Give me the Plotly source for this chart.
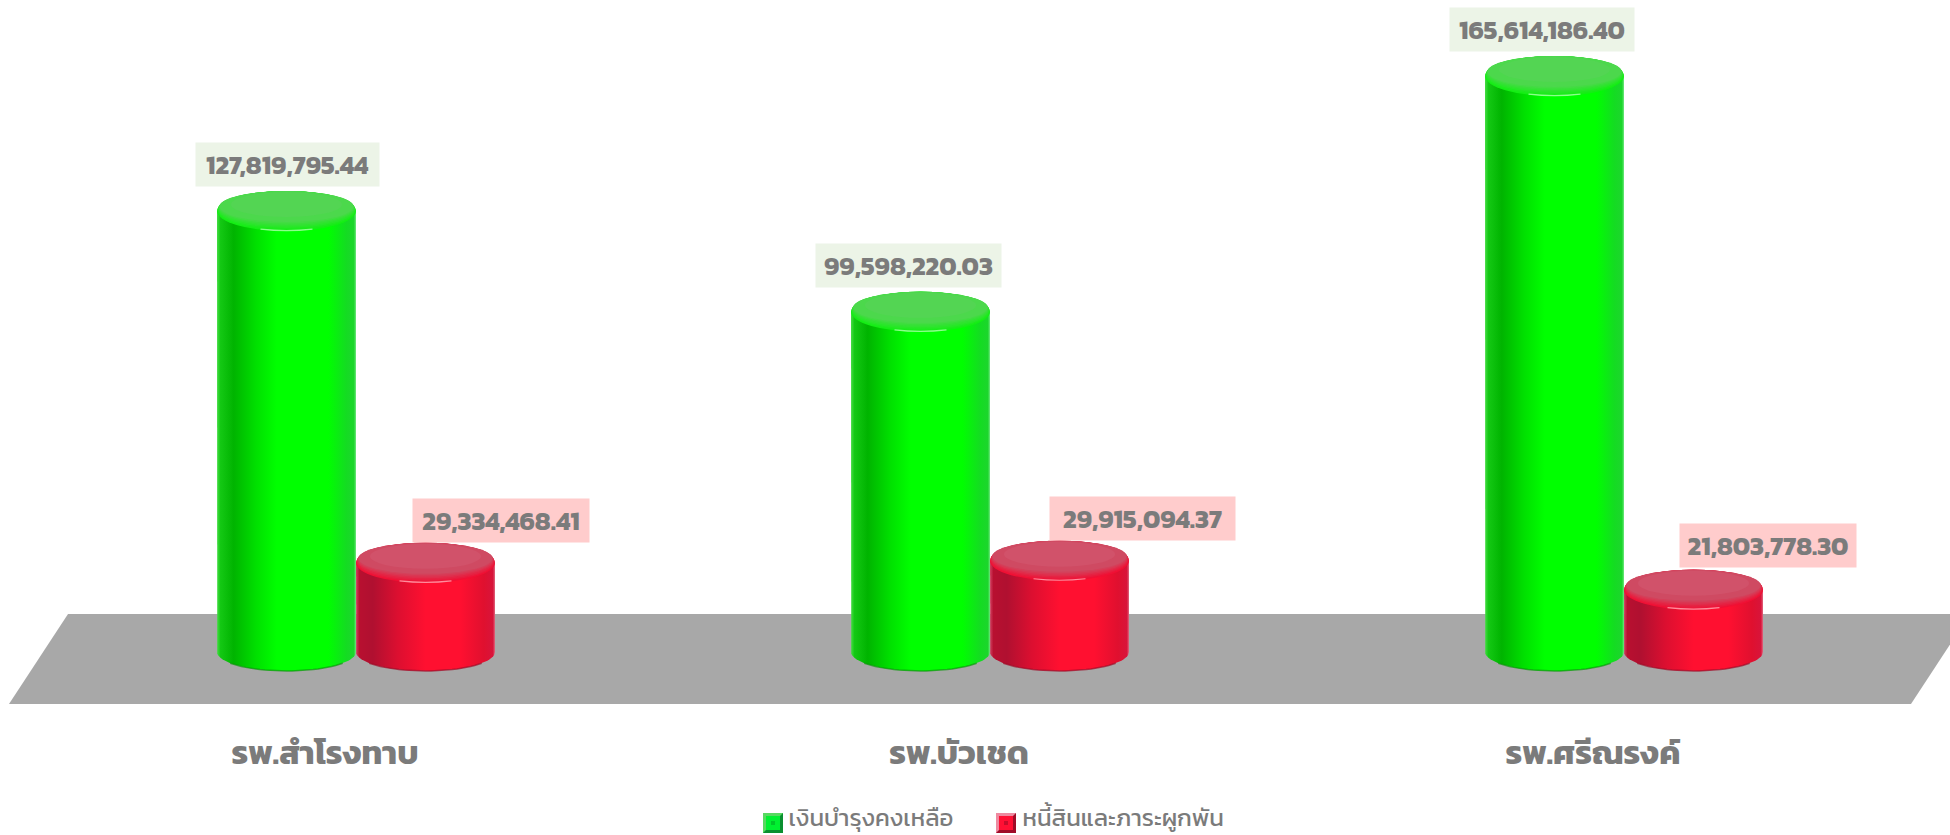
import numpy as np
import plotly.graph_objects as go

categories = ["รพ.สำโรงทาบ", "รพ.บัวเชด", "รพ.ศรีณรงค์"]
series_names = ["เงินบำรุงคงเหลือ", "หนี้สินและภาระผูกพัน"]
reserve_values = [127819795.44, 99598220.03, 165614186.40]
debt_values = [29334468.41, 29915094.37, 21803778.30]

# ---- layout constants (pixels of the 1950x835 page) ----
W, H = 1950, 835
PLOT_BOTTOM = 704
PX_PER_UNIT = 3.572e-6
ZERO_PX = 667.6
CAT_STEP_PX = 634
FIRST_CAT_PX = 356
BAR_PX = 139
TOP_HH = 20
BOT_HH = 19
BOT_EDGE_PX = 652
TICK_SHIFT_PX = -31

y_range = [(ZERO_PX - PLOT_BOTTOM) / PX_PER_UNIT, ZERO_PX / PX_PER_UNIT]
x_range = [-FIRST_CAT_PX / CAT_STEP_PX, (W - FIRST_CAT_PX) / CAT_STEP_PX]
bar_w = BAR_PX / CAT_STEP_PX
positions = list(range(len(categories)))

FONT = "Kanit, Prompt, 'Noto Sans Thai', 'Noto Sans', Lato, sans-serif"
TXT = "#7b7b7b"

green_scale = [[0, "#45dd45"], [0.025, "#14c814"], [0.12, "#00b400"], [0.28, "#00e000"],
               [0.43, "#00ff00"], [0.8, "#00ff00"], [0.93, "#14dc22"], [0.985, "#1cd62c"], [1, "#70e880"]]
red_scale = [[0, "#d04060"], [0.025, "#b81030"], [0.12, "#b01030"], [0.3, "#dc0f30"],
             [0.5, "#ff1030"], [0.75, "#ff1030"], [0.92, "#e0102f"], [0.985, "#d8143a"], [1, "#e06880"]]


def mix(a, b, t):
    ca = [int(a[i:i + 2], 16) for i in (1, 3, 5)]
    cb = [int(b[i:i + 2], 16) for i in (1, 3, 5)]
    return "#" + "".join(f"{round(x + (y - x) * t):02x}" for x, y in zip(ca, cb))


styles = [
    dict(values=reserve_values, name=series_names[0], side=-1, scale=green_scale, solid="#00e800",
         rim="#14ee14", face="#4cd84c", inner="#53d553", glow="#8cff8c", edge="#0a9a0a", label_bg="#ecf4e7",
         label_dx=[1, -12, -13], label_w=[183, 185, 184], label_dy=[24, 24, 24]),
    dict(values=debt_values, name=series_names[1], side=1, scale=red_scale, solid="#f00f30",
         rim="#f01034", face="#cf4a62", inner="#d1526a", glow="#ff8c9c", edge="#a00c28", label_bg="#ffcccc",
         label_dx=[75, 83, 74], label_w=[176, 185, 176], label_dy=[20, 20, 22]),
]

fig = go.Figure()
shapes = [dict(type="path", xref="paper", yref="paper", layer="below",
               path=f"M {68/W} {(PLOT_BOTTOM-614)/PLOT_BOTTOM} L {1970/W} {(PLOT_BOTTOM-614)/PLOT_BOTTOM} "
                    f"L {1911/W} 0 L {9/W} 0 Z",
               fillcolor="#a8a8a8", line=dict(width=0))]
annotations = []

edge_y = (ZERO_PX - BOT_EDGE_PX) / PX_PER_UNIT
arc_t = np.linspace(np.pi, 2 * np.pi, 41)
edge_t = np.linspace(1.2 * np.pi, 1.8 * np.pi, 25)

for s in styles:
    centers = [p + s["side"] * bar_w / 2 for p in positions]
    inner_w = bar_w * 0.5
    fig.add_trace(go.Bar(x=centers, y=s["values"], width=inner_w, name=s["name"],
                         marker=dict(color=s["solid"], line=dict(width=0)), showlegend=False,
                         hovertemplate="%{y:,.2f}<extra>" + s["name"] + "</extra>"))
    for cx, v, dx, lw, dy in zip(centers, s["values"], s["label_dx"], s["label_w"], s["label_dy"]):
        ax = cx + np.cos(arc_t) * bar_w / 2
        ay = edge_y + np.sin(arc_t) * BOT_HH / PX_PER_UNIT
        px = np.concatenate([[cx - bar_w / 2], ax, [cx + bar_w / 2]])
        py = np.concatenate([[v], ay, [v]])
        fig.add_trace(go.Scatter(x=px, y=py, mode="lines", line=dict(width=0), fill="toself",
                                 fillgradient=dict(type="horizontal", colorscale=s["scale"]),
                                 hoverinfo="skip", showlegend=False))
        fig.add_trace(go.Scatter(x=cx + np.cos(edge_t) * bar_w / 2,
                                 y=edge_y + np.sin(edge_t) * BOT_HH / PX_PER_UNIT,
                                 mode="lines", line=dict(width=1.5, color=s["edge"]),
                                 opacity=0.7, hoverinfo="skip", showlegend=False))
        hw = BAR_PX / 2
        steps = 7
        for i in range(steps):
            t = i / (steps - 1)
            off = 4.5 * t
            hhh = TOP_HH - off
            www = hw - 2.5 * t
            shapes.append(dict(type="circle", xref="x", yref="y", layer="above",
                               xsizemode="pixel", ysizemode="pixel", xanchor=cx, yanchor=v,
                               x0=-www, x1=www, y0=off - hhh, y1=off + hhh,
                               fillcolor=mix(s["rim"], s["face"], t), line=dict(width=0)))
        shapes.append(dict(type="circle", xref="x", yref="y", layer="above",
                           xsizemode="pixel", ysizemode="pixel", xanchor=cx, yanchor=v,
                           x0=-(hw - 14), x1=hw - 14, y0=-6, y1=19,
                           fillcolor=s["inner"], line=dict(width=0)))
        shapes.append(dict(type="path", xref="x", yref="y", layer="above",
                           xsizemode="pixel", ysizemode="pixel", xanchor=cx, yanchor=v,
                           path=f"M -26 -{TOP_HH-2} Q 0 -{TOP_HH+1} 26 -{TOP_HH-2}",
                           fillcolor="rgba(0,0,0,0)", line=dict(width=1.2, color=s["glow"])))
        annotations.append(dict(x=cx, y=v, xref="x", yref="y", xanchor="center", yanchor="bottom",
                                xshift=dx, yshift=dy, showarrow=False,
                                text=f"<b>{v:,.2f}</b>", font=dict(family=FONT, size=26, color=TXT),
                                bgcolor=s["label_bg"], width=lw, height=43, borderpad=0, align="center"))


def px_x(p):
    return p / W


def px_y(p):
    return (PLOT_BOTTOM - p) / PLOT_BOTTOM


def swatch(x0, y0, size, dark, light, body, core):
    """Bevelled legend square, in page pixels."""
    x1, y1 = x0 + size, y0 + size
    b = 3
    out = [
        dict(type="rect", x0=px_x(x0), x1=px_x(x1), y0=px_y(y1), y1=px_y(y0), fillcolor=dark),
        dict(type="path", path=f"M {px_x(x0)} {px_y(y1)} L {px_x(x0)} {px_y(y0)} L {px_x(x1)} {px_y(y0)} "
                               f"L {px_x(x1-b)} {px_y(y0+b)} L {px_x(x0+b)} {px_y(y1-b)} Z", fillcolor=light),
        dict(type="rect", x0=px_x(x0 + b), x1=px_x(x1 - b), y0=px_y(y1 - b), y1=px_y(y0 + b), fillcolor=body),
        dict(type="rect", x0=px_x(x0 + 8), x1=px_x(x1 - 8), y0=px_y(y1 - 8), y1=px_y(y0 + 8), fillcolor=core),
    ]
    for o in out:
        o.update(xref="paper", yref="paper", layer="above", line=dict(width=0))
    return out


shapes += swatch(763, 813, 20, "#0a8f30", "#58d860", "#00f030", "#00c828")
shapes += swatch(996, 813, 20, "#a00c28", "#ee8aa0", "#ff1034", "#c80c2c")

legend_x_px = [748.5, 982.5]
for i, name in enumerate(series_names):
    fig.add_trace(go.Scatter(x=[None], y=[None], mode="markers", name=name,
                             legend="legend" if i == 0 else "legend2",
                             marker=dict(symbol="square", size=10, color="rgba(0,0,0,0)",
                                         line=dict(width=0))))

legend_common = dict(orientation="h", xanchor="left", y=(PLOT_BOTTOM - 817) / PLOT_BOTTOM, yanchor="middle",
                     font=dict(family=FONT, size=24, color=TXT), itemsizing="trace", itemwidth=30,
                     bgcolor="rgba(0,0,0,0)", itemclick=False, itemdoubleclick=False)

tick_offset = TICK_SHIFT_PX / CAT_STEP_PX
fig.update_layout(
    width=W, height=H, barmode="overlay",
    margin=dict(l=0, r=0, t=0, b=H - PLOT_BOTTOM, pad=0, autoexpand=False),
    paper_bgcolor="white", plot_bgcolor="rgba(0,0,0,0)",
    shapes=shapes, annotations=annotations,
    xaxis=dict(range=x_range, tickmode="array", tickvals=[p + tick_offset for p in positions],
               ticktext=[f"<b>{c}</b>" for c in categories],
               showgrid=False, zeroline=False, showline=False, ticks="outside", ticklen=19,
               tickcolor="rgba(0,0,0,0)", tickfont=dict(family=FONT, size=33, color=TXT), fixedrange=True),
    yaxis=dict(range=y_range, visible=False, fixedrange=True),
    legend=dict(x=legend_x_px[0] / W, **legend_common),
    legend2=dict(x=legend_x_px[1] / W, **legend_common),
    showlegend=True,
)

fig.write_html("out.html", config=dict(displayModeBar=False),
               post_script="document.body.style.margin='0';document.body.style.overflow='hidden';")
